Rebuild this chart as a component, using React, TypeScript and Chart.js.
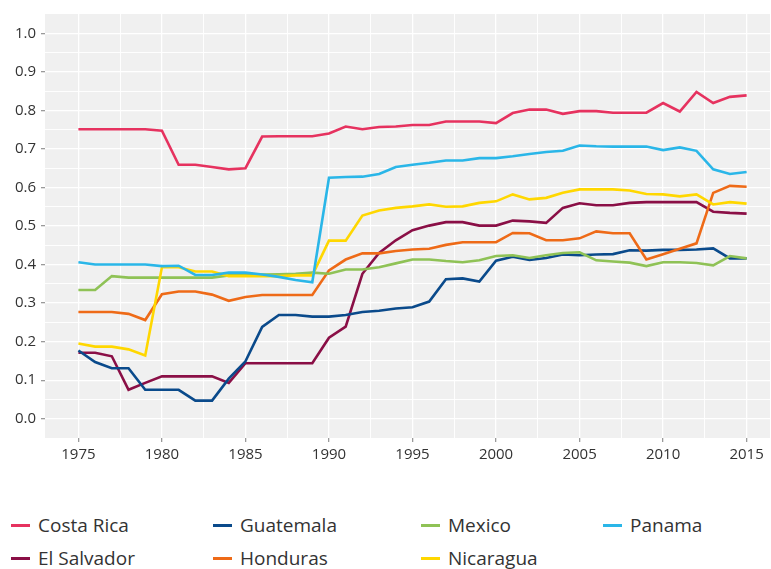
import React, { useEffect, useRef } from "react";
import { Chart, registerables } from "chart.js";

Chart.register(...registerables);

const YEARS = [
  1975, 1976, 1977, 1978, 1979, 1980, 1981, 1982, 1983, 1984,
  1985, 1986, 1987, 1988, 1989, 1990, 1991, 1992, 1993, 1994,
  1995, 1996, 1997, 1998, 1999, 2000, 2001, 2002, 2003, 2004,
  2005, 2006, 2007, 2008, 2009, 2010, 2011, 2012, 2013, 2014,
  2015,
];

const COSTA_RICA = [
  0.751, 0.751, 0.751, 0.751, 0.751, 0.747, 0.659, 0.659, 0.653, 0.647,
  0.650, 0.732, 0.733, 0.733, 0.733, 0.740, 0.758, 0.751, 0.757, 0.758,
  0.762, 0.762, 0.771, 0.771, 0.771, 0.767, 0.793, 0.802, 0.802, 0.791,
  0.798, 0.798, 0.794, 0.794, 0.794, 0.819, 0.797, 0.848, 0.819, 0.835,
  0.839,
];
const EL_SALVADOR = [
  0.171, 0.171, 0.162, 0.075, 0.093, 0.110, 0.110, 0.110, 0.110, 0.093,
  0.144, 0.144, 0.144, 0.144, 0.144, 0.210, 0.239, 0.376, 0.430, 0.463,
  0.489, 0.501, 0.510, 0.510, 0.501, 0.501, 0.514, 0.512, 0.508, 0.547,
  0.559, 0.554, 0.554, 0.560, 0.562, 0.562, 0.562, 0.562, 0.537, 0.534,
  0.532,
];
const GUATEMALA = [
  0.177, 0.147, 0.131, 0.131, 0.075, 0.075, 0.075, 0.047, 0.047, 0.104,
  0.149, 0.238, 0.269, 0.269, 0.265, 0.265, 0.269, 0.277, 0.280, 0.286,
  0.289, 0.304, 0.362, 0.364, 0.356, 0.410, 0.420, 0.412, 0.417, 0.426,
  0.424, 0.426, 0.427, 0.437, 0.436, 0.438, 0.438, 0.439, 0.442, 0.416,
  0.416,
];
const HONDURAS = [
  0.277, 0.277, 0.277, 0.272, 0.256, 0.323, 0.330, 0.330, 0.322, 0.306,
  0.316, 0.321, 0.321, 0.321, 0.321, 0.385, 0.413, 0.429, 0.429, 0.435,
  0.439, 0.441, 0.451, 0.458, 0.458, 0.458, 0.482, 0.481, 0.463, 0.463,
  0.468, 0.486, 0.481, 0.481, 0.413, 0.427, 0.441, 0.455, 0.586, 0.604,
  0.602,
];
const MEXICO = [
  0.334, 0.334, 0.370, 0.366, 0.366, 0.366, 0.366, 0.366, 0.366, 0.372,
  0.373, 0.374, 0.375, 0.376, 0.379, 0.376, 0.387, 0.387, 0.393, 0.403,
  0.413, 0.413, 0.409, 0.406, 0.411, 0.422, 0.424, 0.417, 0.424, 0.430,
  0.432, 0.411, 0.408, 0.405, 0.396, 0.406, 0.406, 0.404, 0.398, 0.422,
  0.416,
];
const NICARAGUA = [
  0.195, 0.187, 0.187, 0.180, 0.164, 0.393, 0.393, 0.382, 0.382, 0.370,
  0.370, 0.370, 0.370, 0.372, 0.372, 0.462, 0.462, 0.527, 0.540, 0.547,
  0.551, 0.556, 0.550, 0.551, 0.560, 0.564, 0.582, 0.569, 0.573, 0.586,
  0.595, 0.595, 0.595, 0.592, 0.583, 0.582, 0.577, 0.582, 0.556, 0.562,
  0.558,
];
const PANAMA = [
  0.406, 0.400, 0.400, 0.400, 0.400, 0.396, 0.397, 0.373, 0.373, 0.379,
  0.379, 0.374, 0.368, 0.360, 0.354, 0.625, 0.627, 0.628, 0.635, 0.653,
  0.659, 0.664, 0.670, 0.670, 0.676, 0.676, 0.681, 0.687, 0.692, 0.695,
  0.709, 0.707, 0.706, 0.706, 0.706, 0.697, 0.704, 0.695, 0.647, 0.635,
  0.640,
];

const X_TICKS = [
  1975, 1977.5, 1980, 1982.5, 1985, 1987.5, 1990, 1992.5, 1995, 1997.5,
  2000, 2002.5, 2005, 2007.5, 2010, 2012.5, 2015,
];
const Y_TICKS = [
  0, 0.05, 0.1, 0.15, 0.2, 0.25, 0.3, 0.35, 0.4, 0.45, 0.5,
  0.55, 0.6, 0.65, 0.7, 0.75, 0.8, 0.85, 0.9, 0.95, 1.0,
];

const SERIES = [
  { name: "Costa Rica", values: COSTA_RICA, color: "#e6325f", order: 6 },
  { name: "El Salvador", values: EL_SALVADOR, color: "#8a0f46", order: 5 },
  { name: "Guatemala", values: GUATEMALA, color: "#0a4a8b", order: 4 },
  { name: "Honduras", values: HONDURAS, color: "#ee6a17", order: 3 },
  { name: "Mexico", values: MEXICO, color: "#8fc256", order: 2 },
  { name: "Nicaragua", values: NICARAGUA, color: "#ffd700", order: 1 },
  { name: "Panama", values: PANAMA, color: "#2ab6e8", order: 0 },
];

// legend grid: [name, column, row]
const LEGEND_LAYOUT: [string, number, number][] = [
  ["Costa Rica", 0, 0],
  ["Guatemala", 1, 0],
  ["Mexico", 2, 0],
  ["Panama", 3, 0],
  ["El Salvador", 0, 1],
  ["Honduras", 1, 1],
  ["Nicaragua", 2, 1],
];
const LEGEND_COL_X = [11, 213, 421, 603];
const LEGEND_ROW_Y = [525, 558];

const isMajorX = (v: number) => Math.abs(v / 5 - Math.round(v / 5)) < 1e-6;
const isMajorY = (v: number) => Math.abs(v * 10 - Math.round(v * 10)) < 1e-6;

const panelBg = {
  id: "panelBg",
  beforeDraw(chart: any) {
    const { ctx, chartArea } = chart;
    ctx.save();
    ctx.fillStyle = "#f0f0f0";
    ctx.fillRect(chartArea.left, chartArea.top, chartArea.right - chartArea.left, chartArea.bottom - chartArea.top);
    ctx.restore();
  },
};

export default function App() {
  const ref = useRef<HTMLCanvasElement | null>(null);

  useEffect(() => {
    if (!ref.current) return;
    const chart = new Chart(ref.current, {
      type: "line",
      data: {
        datasets: SERIES.map((s) => ({
          label: s.name,
          data: YEARS.map((y, i) => ({ x: y, y: s.values[i] })),
          borderColor: s.color,
          backgroundColor: s.color,
          borderWidth: 2.6,
          pointRadius: 0,
          tension: 0,
          fill: false,
          order: s.order,
        })),
      },
      plugins: [panelBg],
      options: {
        responsive: false,
        animation: false,
        layout: { padding: { top: 14, right: 1, left: 0, bottom: 0 } },
        plugins: {
          legend: { display: false },
          tooltip: { enabled: false },
        },
        scales: {
          x: {
            type: "linear",
            min: 1973,
            max: 2016.4,
            afterBuildTicks: (scale: any) => {
              scale.ticks = X_TICKS.map((v) => ({ value: v }));
            },
            afterFit: (scale: any) => {
              scale.height = 32;
            },
            border: { display: false },
            grid: {
              color: "#ffffff",
              lineWidth: (ctx: any) => (isMajorX(ctx.tick.value) ? 1.3 : 0.9),
              tickLength: 4,
              tickColor: (ctx: any) => (isMajorX(ctx.tick.value) ? "#9a9a9a" : "rgba(0,0,0,0)"),
              drawTicks: true,
            },
            ticks: {
              autoSkip: false,
              maxRotation: 0,
              padding: 4,
              color: "#333333",
              font: { family: "'Open Sans', 'Noto Sans', sans-serif", size: 15 },
              callback: (v: any) => (isMajorX(Number(v)) ? String(v) : ""),
            },
          },
          y: {
            type: "linear",
            min: -0.05,
            max: 1.05,
            afterBuildTicks: (scale: any) => {
              scale.ticks = Y_TICKS.map((v) => ({ value: v }));
            },
            afterFit: (scale: any) => {
              scale.width = 45;
            },
            border: { display: false },
            grid: {
              color: "#ffffff",
              lineWidth: (ctx: any) => (isMajorY(ctx.tick.value) ? 1.3 : 0.9),
              tickLength: 4,
              tickColor: (ctx: any) => (isMajorY(ctx.tick.value) ? "#9a9a9a" : "rgba(0,0,0,0)"),
              drawTicks: true,
            },
            ticks: {
              autoSkip: false,
              padding: 5,
              color: "#333333",
              font: { family: "'Open Sans', 'Noto Sans', sans-serif", size: 15 },
              callback: (v: any) => (isMajorY(Number(v)) ? Number(v).toFixed(1) : ""),
            },
          },
        },
      },
    } as any);
    return () => chart.destroy();
  }, []);

  const colorOf = (name: string) => SERIES.find((s) => s.name === name)?.color ?? "#000";

  return (
    <div
      style={{
        position: "fixed",
        left: 0,
        top: 0,
        width: 771,
        height: 569,
        background: "#ffffff",
        overflow: "hidden",
      }}
    >
      <canvas ref={ref} width={771} height={470} style={{ position: "absolute", left: 0, top: 0 }} />
      {LEGEND_LAYOUT.map(([name, col, row]) => (
        <div
          key={name}
          style={{
            position: "absolute",
            left: LEGEND_COL_X[col],
            top: LEGEND_ROW_Y[row] - 14,
            height: 28,
            display: "flex",
            alignItems: "center",
            fontFamily: "'Open Sans', 'Noto Sans', sans-serif",
            fontSize: 19,
            color: "#333333",
            whiteSpace: "nowrap",
          }}
        >
          <span
            style={{
              display: "inline-block",
              width: 19,
              height: 3,
              background: colorOf(name),
              marginRight: 8,
            }}
          />
          <span>{name}</span>
        </div>
      ))}
    </div>
  );
}
